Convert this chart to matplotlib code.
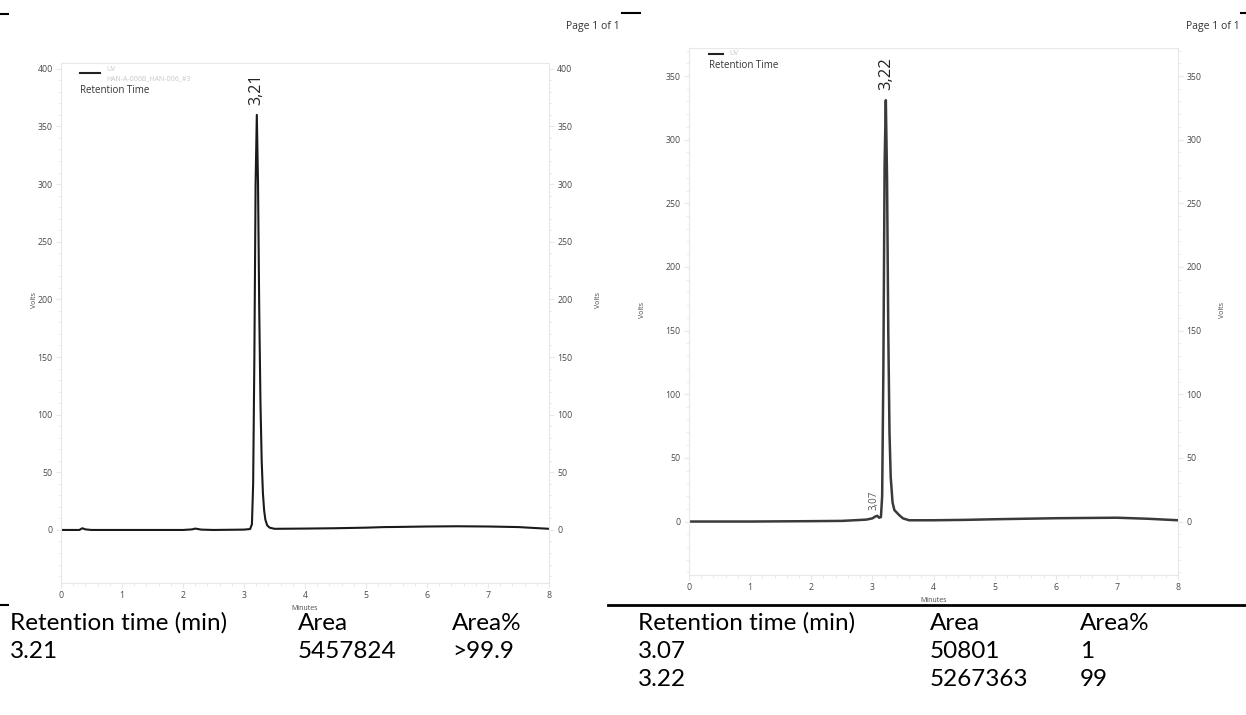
import matplotlib
matplotlib.use("Agg")
import matplotlib.pyplot as plt
from matplotlib.ticker import MultipleLocator
from matplotlib.lines import Line2D

# ---------------- data ----------------
left_time = [0.0, 0.3, 0.35, 0.4, 0.5, 1.0, 1.5, 2.0, 2.15, 2.2, 2.3, 2.5, 3.0, 3.10,
             3.13, 3.15, 3.17, 3.19, 3.21, 3.23, 3.25, 3.27, 3.29, 3.31, 3.33, 3.35,
             3.38, 3.42, 3.5, 4.0, 4.5, 5.0, 5.3, 5.5, 6.0, 6.5, 7.0, 7.5, 8.0]
left_volts = [0.0, 0.0, 1.5, 0.5, 0.0, 0.0, 0.0, 0.0, 0.5, 1.2, 0.3, 0.0, 0.3, 0.8,
              5, 40, 150, 300, 360, 300, 190, 110, 60, 32, 17, 9,
              4, 2, 1, 1.2, 1.5, 2.0, 2.5, 2.6, 3.0, 3.2, 3.0, 2.5, 1.0]

right_time = [0.0, 1.0, 2.0, 2.5, 2.9, 3.0, 3.05, 3.08, 3.11, 3.14, 3.16, 3.18, 3.20,
              3.22, 3.24, 3.26, 3.28, 3.30, 3.33, 3.36, 3.40, 3.44, 3.5, 3.6, 4.0,
              4.5, 5.0, 5.5, 6.0, 6.5, 7.0, 7.5, 8.0]
right_volts = [0.0, 0.0, 0.3, 0.5, 1.5, 2.5, 4.0, 4.5, 3.0, 3.5, 20, 120, 280,
               331, 270, 150, 70, 35, 15, 9, 7, 5, 2.5, 1.0, 1.0,
               1.3, 1.8, 2.2, 2.6, 2.8, 3.0, 2.2, 1.0]

left_peaks = [("3,21", 3.21, 360)]
right_peaks = [("3,07", 3.07, 4.5), ("3,22", 3.22, 331)]

x_ticks = [0, 1, 2, 3, 4, 5, 6, 7, 8]
left_yticks = [0, 50, 100, 150, 200, 250, 300, 350, 400]
right_yticks = [0, 50, 100, 150, 200, 250, 300, 350]

table_header = ["Retention time (min)", "Area", "Area%"]
left_rows = [["3.21", "5457824", ">99.9"]]
right_rows = [["3.07", "50801", "1"], ["3.22", "5267363", "99"]]

# ---------------- figure ----------------
W, H = 1246, 715
fig = plt.figure(figsize=(W / 100, H / 100), dpi=100)
fig.patch.set_facecolor("white")

CH_FONT = "Open Sans"
TB_FONT = "Lato"
grid_col = "#e8e8e8"
lab_col = "#4a4a4a"


def px_axes(x0, y0, x1, y1):
    return fig.add_axes([x0 / W, 1 - y1 / H, (x1 - x0) / W, (y1 - y0) / H])


def style_axes(ax, ylim, yticks):
    ax.set_xlim(0, 8)
    ax.set_ylim(*ylim)
    ax.set_xticks(x_ticks)
    ax.set_yticks(yticks)
    ax.xaxis.set_minor_locator(MultipleLocator(0.2))
    ax.yaxis.set_minor_locator(MultipleLocator(10))
    for s in ax.spines.values():
        s.set_color(grid_col)
        s.set_linewidth(0.8)
    ax.tick_params(which="both", direction="out", colors=grid_col,
                   labelcolor=lab_col, labelsize=6.3, right=True,
                   labelright=True, left=True, labelleft=True, pad=2.5)
    ax.tick_params(which="major", length=3.5)
    ax.tick_params(which="minor", length=2)
    for lab in ax.get_xticklabels() + ax.get_yticklabels():
        lab.set_fontfamily(CH_FONT)
    ax.set_xlabel("Minutes", fontsize=5, color=lab_col, family=CH_FONT, labelpad=3)


def volts(x, y):
    fig.text(x / W, 1 - y / H, "Volts", fontsize=5, color=lab_col, family=CH_FONT,
             rotation=90, ha="center", va="center")


# left chromatogram
axL = px_axes(61, 63, 549, 583)
axL.plot(left_time, left_volts, color="#1a1a1a", lw=1.5, solid_joinstyle="round")
style_axes(axL, (-46, 405), left_yticks)
for txt, t, v in left_peaks:
    axL.annotate(txt, (t, v), xytext=(0, 7), textcoords="offset points",
                 rotation=90, ha="center", va="bottom", fontsize=11.5,
                 family=CH_FONT, color="#222222")
volts(34, 300)
volts(598, 300)

# right chromatogram
axR = px_axes(689, 48, 1178, 575)
axR.plot(right_time, right_volts, color="#3a3a3a", lw=1.8, solid_joinstyle="round")
style_axes(axR, (-42, 372), right_yticks)
for txt, t, v in right_peaks:
    big = v > 100
    axR.annotate(txt, (t, v), xytext=(-2 if not big else 0, 7 if big else 4),
                 textcoords="offset points",
                 rotation=90, ha="center", va="bottom", fontsize=12 if big else 7,
                 family=CH_FONT, color="#222222" if big else "#555555")
volts(643, 310)
volts(1223, 310)


# legends
def legend(ax, x0, x1, y_line, texts, y_texts, x_text, title, y_title):
    ax.add_line(Line2D([x0, x1], [y_line, y_line], transform=ax.transAxes,
                       color="#222222", lw=1.5))
    for t, yy in zip(texts, y_texts):
        ax.text(x_text, yy, t, transform=ax.transAxes, fontsize=5, color="#c8c8c8",
                family=CH_FONT, va="center")
    ax.text(x0, y_title, title, transform=ax.transAxes, fontsize=7,
            color="#333333", family=CH_FONT, va="center")

legend(axL, 0.039, 0.080, 0.981, ["UV", "HAN-A-006B_HAN-006_#3"], [0.987, 0.969],
       0.092, "Retention Time", 0.948)
legend(axR, 0.041, 0.070, 0.989, ["UV"], [0.989], 0.083, "Retention Time", 0.966)

# page texts
fig.text(620 / W, 1 - 27 / H, "Page 1 of 1", fontsize=7.5, family=CH_FONT,
         color="#333333", ha="right", va="center")
fig.text(1240 / W, 1 - 27 / H, "Page 1 of 1", fontsize=7.5, family=CH_FONT,
         color="#333333", ha="right", va="center")


def fig_line(x0, x1, y, lw=1.5):
    fig.add_artist(Line2D([x0 / W, x1 / W], [1 - y / H, 1 - y / H], color="black", lw=lw))

fig_line(0, 8, 14)
fig_line(622, 640, 13)
fig_line(1241, 1246, 13)
fig_line(0, 8, 605)
fig_line(608, 1246, 605, lw=2)

# tables
col_x_left = [10, 298, 452]
col_x_right = [638, 930, 1080]
row_y = [623, 651, 680]


def table(col_x, rows):
    for cx, t in zip(col_x, table_header):
        fig.text(cx / W, 1 - row_y[0] / H, t, fontsize=17.5, family=TB_FONT,
                 color="black", va="center", ha="left")
    for r, row in enumerate(rows):
        for cx, t in zip(col_x, row):
            fig.text(cx / W, 1 - row_y[r + 1] / H, t, fontsize=17.5, family=TB_FONT,
                     color="black", va="center", ha="left")

table(col_x_left, left_rows)
table(col_x_right, right_rows)

fig.savefig("out.png", dpi=100, facecolor="white")
